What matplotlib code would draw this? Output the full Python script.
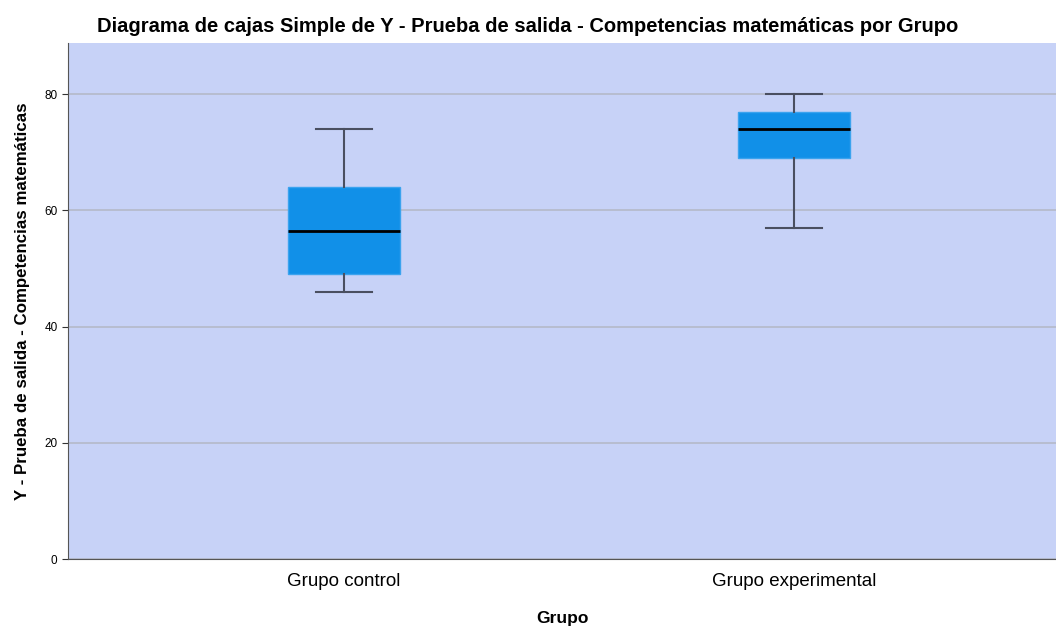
import matplotlib
matplotlib.use("Agg")
import matplotlib.pyplot as plt

categories = ["Grupo control", "Grupo experimental"]
whislo = [46, 57]
q1 = [49, 69]
med = [56.5, 74]
q3 = [64, 77]
whishi = [74, 80]
yticks = [0, 20, 40, 60, 80]

plt.rcParams['font.family'] = ['Liberation Sans', 'DejaVu Sans']

fig = plt.figure(figsize=(10.56, 6.31), dpi=100)
ax = fig.add_axes([68/1056, 1-559/631, (1056-68)/1056, (559-43)/631])
ax.set_facecolor('#C7D2F7')

stats = []
for i, c in enumerate(categories):
    stats.append(dict(label=c, whislo=whislo[i], q1=q1[i], med=med[i], q3=q3[i], whishi=whishi[i], fliers=[]))

ax.bxp(stats, positions=[0, 1], widths=0.249, patch_artist=True, showfliers=False,
       boxprops=dict(facecolor='#1190E8', edgecolor='#3BA3EE', linewidth=1),
       medianprops=dict(color='black', linewidth=2),
       whiskerprops=dict(color='#4A4F60', linewidth=1.5),
       capprops=dict(color='#4A4F60', linewidth=1.5),
       capwidths=0.125, zorder=3)

ax.set_xlim(-0.613, 1.582)
ax.set_ylim(0, 88.8)
ax.set_yticks(yticks)
ax.yaxis.grid(True, color='#B4B9C9', linewidth=1.2, zorder=0)
ax.set_axisbelow(True)
ax.tick_params(axis='y', labelsize=8.5, length=4, color='#333333')
ax.tick_params(axis='x', labelsize=13.5, length=0, pad=10)
for s in ['top', 'right']:
    ax.spines[s].set_visible(False)
for s in ['left', 'bottom']:
    ax.spines[s].set_color('#555555')

ax.set_xlabel('Grupo', fontsize=12.5, fontweight='bold', labelpad=15)
ax.set_ylabel('Y - Prueba de salida - Competencias matemáticas', fontsize=12.2, fontweight='bold', labelpad=10)
fig.text(0.5, 1-27/631, 'Diagrama de cajas Simple de Y - Prueba de salida - Competencias matemáticas por Grupo',
         ha='center', va='center', fontsize=14.5, fontweight='bold')

fig.savefig('out.png', dpi=100)
